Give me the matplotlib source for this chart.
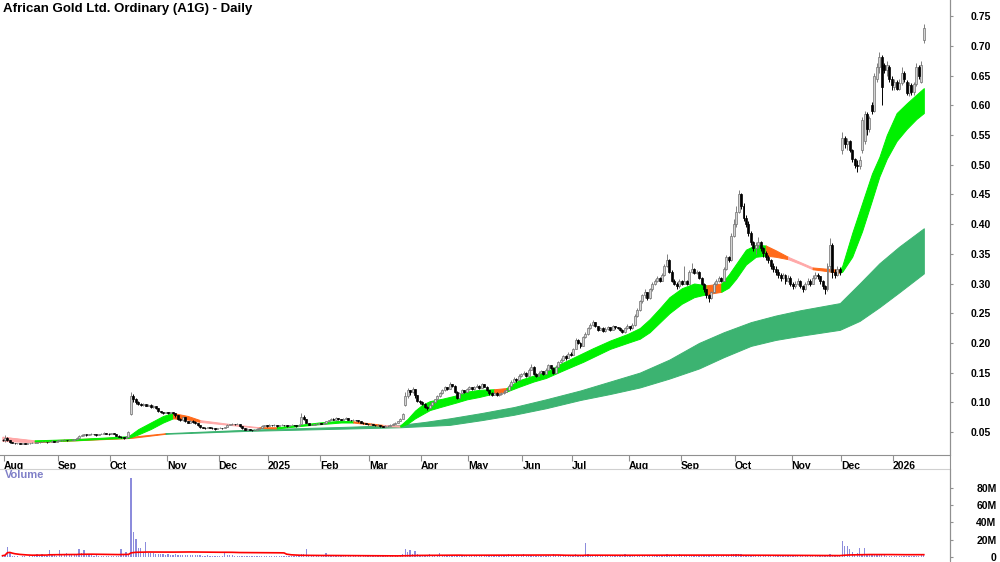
import numpy as np
import pandas as pd
import matplotlib
matplotlib.use("Agg")
import matplotlib.pyplot as plt
import matplotlib.transforms as mtransforms
from matplotlib.lines import Line2D

plt.rcParams['font.family'] = ['Liberation Sans', 'DejaVu Sans']

TITLE = "African Gold Ltd. Ordinary (A1G) - Daily"

# ASX trading days shown on the chart
holidays = ['2024-12-25', '2024-12-26', '2025-01-01', '2025-01-27', '2025-04-18',
            '2025-04-21', '2025-04-25', '2025-06-09', '2025-12-25', '2025-12-26', '2026-01-01']

# daily (open, high, low, close, volume in millions), one list per month
aug24 = [(.037,.039,.035,.036,1.5),(.036,.045,.034,.040,2.5),(.040,.041,.035,.036,11),(.036,.036,.032,.033,6),
         (.033,.033,.031,.032,1.0),(.032,.032,.030,.031,.6),(.031,.032,.030,.031,.8),(.031,.031,.029,.030,.5),
         (.030,.032,.030,.031,.7),(.031,.031,.029,.030,.6),(.030,.032,.030,.031,.5),(.031,.032,.030,.031,.8),
         (.031,.033,.031,.032,.6),(.032,.033,.031,.032,2.5),(.032,.034,.032,.033,3.0),(.033,.034,.032,.033,2.0),
         (.033,.035,.033,.034,3.5),(.034,.035,.033,.034,2.8),(.034,.034,.032,.033,1.5),(.033,.035,.033,.034,8.0),
         (.034,.036,.034,.035,3.0),(.035,.035,.033,.034,2.0),(.034,.036,.034,.035,1.5)]
sep24 = [(.035,.037,.035,.036,8.0),(.036,.037,.035,.036,4.0),(.036,.038,.036,.037,3.0),(.037,.037,.035,.036,5.0),
         (.036,.038,.036,.037,2.5),(.037,.038,.036,.037,2.0),(.037,.039,.037,.038,4.0),(.038,.041,.038,.040,3.5),
         (.040,.045,.040,.044,9.0),(.044,.046,.043,.045,5.0),(.045,.047,.044,.046,8.0),(.046,.046,.044,.045,4.0),
         (.045,.047,.045,.046,2.5),(.046,.048,.045,.047,2.0),(.047,.047,.045,.046,1.5),(.046,.046,.044,.045,1.8),
         (.045,.047,.045,.046,1.2),(.046,.048,.046,.047,1.5),(.047,.050,.046,.048,1.0),(.048,.049,.046,.047,1.3),
         (.047,.048,.045,.046,1.1)]
oct24 = [(.046,.049,.046,.048,1.2),(.048,.048,.046,.047,1.0),(.047,.047,.043,.044,1.5),(.044,.045,.041,.042,1.3),
         (.042,.043,.040,.041,9.0),(.041,.042,.039,.040,3.0),(.040,.043,.040,.042,6.0),(.042,.052,.042,.050,4.0),
         (.080,.117,.078,.110,92),(.110,.114,.100,.105,29),(.105,.108,.097,.100,21),(.100,.102,.095,.097,10),
         (.097,.099,.093,.095,10),(.095,.099,.094,.097,5.0),(.097,.098,.093,.094,17),(.094,.097,.093,.096,5.0),
         (.096,.097,.091,.092,4.5),(.092,.095,.091,.093,5.0),(.093,.094,.089,.090,3.5),(.090,.091,.084,.085,4.0),
         (.085,.086,.082,.083,3.0),(.083,.084,.081,.082,3.5),(.082,.084,.082,.083,2.5)]
nov24 = [(.083,.084,.081,.082,3.0),(.082,.084,.081,.083,2.5),(.083,.083,.081,.082,2.8),(.082,.082,.076,.078,3.0),
         (.078,.079,.070,.072,2.5),(.072,.073,.068,.070,2.0),(.070,.076,.069,.075,2.5),(.075,.075,.067,.068,2.2),
         (.068,.069,.065,.066,2.0),(.066,.070,.066,.069,2.4),(.069,.070,.066,.067,1.8),(.067,.068,.064,.065,2.0),
         (.065,.065,.060,.061,2.2),(.061,.062,.057,.058,1.8),(.058,.059,.056,.057,1.5),(.057,.058,.055,.056,1.7),
         (.056,.059,.056,.058,2.0),(.058,.058,.056,.057,1.5),(.057,.058,.055,.056,1.6),(.056,.057,.054,.055,1.4),
         (.055,.057,.055,.056,1.5)]
dec24 = [(.056,.058,.056,.057,1.6),(.057,.057,.055,.056,1.3),(.056,.059,.056,.058,6.0),(.058,.063,.058,.062,2.5),
         (.062,.064,.061,.063,2.0),(.063,.065,.062,.064,1.8),(.064,.064,.062,.063,1.5),(.063,.065,.063,.064,1.7),
         (.064,.064,.059,.060,1.5),(.060,.060,.055,.056,1.3),(.056,.057,.053,.054,1.2),(.054,.056,.054,.055,1.0),
         (.055,.055,.053,.054,1.4),(.054,.054,.052,.053,1.1),(.053,.055,.053,.054,.8),(.054,.056,.054,.055,1.0),
         (.055,.057,.055,.056,.9),(.056,.061,.056,.060,1.5),(.060,.062,.059,.061,1.2),(.061,.061,.059,.060,.8)]
jan25 = [(.060,.063,.060,.062,1.0),(.062,.062,.060,.061,.8),(.061,.063,.060,.062,1.1),(.062,.062,.059,.060,.7),
         (.060,.062,.060,.061,.9),(.061,.063,.061,.062,1.0),(.062,.062,.060,.061,.8),(.061,.061,.059,.060,.6),
         (.060,.062,.060,.061,.9),(.061,.063,.061,.062,1.0),(.062,.062,.060,.061,.7),(.061,.061,.059,.060,.6),
         (.060,.063,.060,.062,1.2),(.064,.082,.063,.075,4.0),(.075,.078,.070,.072,3.0),(.072,.072,.065,.066,9.0),
         (.066,.066,.061,.062,2.0),(.062,.063,.061,.062,1.2),(.062,.064,.062,.063,1.0),(.063,.065,.062,.064,.9),
         (.064,.066,.063,.065,1.1)]
feb25 = [(.065,.065,.063,.064,1.0),(.064,.067,.064,.066,1.3),(.066,.069,.066,.068,5.0),(.068,.071,.067,.070,2.0),
         (.070,.074,.070,.072,1.8),(.072,.073,.070,.071,1.2),(.071,.075,.071,.073,1.5),(.073,.074,.071,.072,1.0),
         (.072,.072,.070,.071,.9),(.071,.073,.071,.072,1.1),(.072,.075,.072,.073,1.3),(.073,.073,.070,.071,.8),
         (.071,.071,.069,.070,.9),(.070,.072,.070,.071,1.0),(.071,.071,.069,.070,.7),(.070,.070,.067,.068,.8),
         (.068,.068,.065,.066,.9),(.066,.067,.064,.065,.6),(.065,.065,.063,.064,.7),(.064,.064,.062,.063,.8)]
mar25 = [(.063,.065,.063,.064,.9),(.064,.064,.061,.062,.7),(.062,.062,.060,.061,.6),(.061,.063,.061,.062,.8),
         (.062,.062,.059,.060,.7),(.060,.060,.058,.059,.6),(.059,.061,.059,.060,.8),(.060,.061,.059,.060,.9),
         (.060,.063,.060,.062,1.0),(.062,.065,.062,.064,1.2),(.064,.067,.064,.066,1.1),(.066,.069,.066,.068,1.5),
         (.068,.074,.068,.072,2.0),(.072,.082,.072,.080,3.0),(.095,.118,.094,.110,9.0),(.110,.124,.108,.120,6.0),
         (.120,.121,.112,.118,8.0),(.118,.126,.116,.122,4.0),(.122,.122,.108,.112,7.0),(.112,.113,.100,.102,3.0),
         (.102,.104,.098,.100,2.5)]
apr25 = [(.100,.102,.096,.098,2.0),(.098,.099,.090,.092,2.5),(.092,.094,.087,.090,1.8),(.090,.097,.090,.095,4.0),
         (.095,.101,.094,.100,2.0),(.100,.106,.099,.105,1.8),(.105,.112,.104,.110,2.2),(.110,.117,.109,.115,5.0),
         (.115,.122,.114,.120,2.5),(.120,.127,.119,.125,2.0),(.125,.126,.120,.122,1.5),(.122,.135,.122,.130,2.8),
         (.130,.131,.125,.128,1.8),(.128,.129,.116,.118,2.0),(.118,.119,.105,.108,2.5),(.108,.117,.107,.115,1.6),
         (.115,.122,.114,.120,1.5),(.120,.121,.116,.118,1.2),(.118,.124,.117,.122,1.4)]
may25 = [(.122,.127,.121,.125,1.3),(.125,.126,.120,.122,1.1),(.122,.128,.121,.126,1.5),(.126,.130,.125,.128,1.8),
         (.128,.129,.122,.124,1.2),(.124,.133,.124,.130,1.6),(.130,.131,.125,.126,1.0),(.126,.127,.119,.120,1.3),
         (.120,.121,.113,.115,1.5),(.115,.117,.111,.113,1.0),(.113,.118,.112,.116,1.2),(.116,.117,.110,.112,.9),
         (.112,.116,.111,.114,1.1),(.114,.117,.113,.115,1.0),(.115,.120,.114,.118,1.4),(.118,.122,.117,.120,1.6),
         (.120,.130,.120,.128,4.0),(.128,.137,.127,.135,2.5),(.135,.142,.134,.140,2.2),(.140,.141,.135,.138,1.5),
         (.138,.147,.137,.145,2.0),(.145,.150,.143,.148,1.8)]
jun25 = [(.148,.153,.146,.150,3.0),(.150,.151,.143,.145,1.5),(.145,.157,.145,.155,2.0),(.155,.165,.154,.160,2.2),
         (.160,.161,.146,.148,1.6),(.148,.150,.142,.145,1.3),(.145,.152,.144,.150,1.4),(.150,.155,.149,.152,1.2),
         (.152,.153,.146,.148,1.0),(.148,.157,.147,.155,1.5),(.155,.165,.154,.162,2.0),(.162,.163,.156,.158,1.4),
         (.158,.159,.148,.150,3.0),(.150,.162,.150,.160,1.8),(.160,.170,.159,.168,2.2),(.168,.175,.167,.172,2.0),
         (.172,.180,.170,.178,2.5),(.178,.179,.172,.175,1.6),(.175,.185,.174,.182,2.4),(.182,.184,.178,.180,1.8)]
jul25 = [(.180,.192,.179,.190,2.0),(.190,.208,.189,.205,3.0),(.205,.206,.198,.200,2.0),(.200,.201,.192,.195,1.5),
         (.195,.212,.194,.210,2.5),(.210,.218,.208,.215,16),(.215,.227,.213,.225,3.5),(.225,.233,.223,.230,2.5),
         (.230,.238,.228,.235,2.8),(.235,.236,.226,.228,2.0),(.228,.229,.220,.222,1.6),(.222,.227,.221,.225,1.4),
         (.225,.226,.218,.220,1.5),(.220,.226,.219,.224,1.3),(.224,.228,.222,.226,1.2),(.226,.227,.220,.222,1.4),
         (.222,.230,.221,.228,1.8),(.228,.229,.224,.226,1.2),(.226,.227,.223,.225,1.0),(.225,.226,.220,.222,1.3),
         (.222,.223,.216,.218,1.5),(.218,.227,.217,.225,3.0),(.225,.231,.224,.228,1.6)]
aug25 = [(.228,.229,.222,.225,1.5),(.225,.233,.224,.230,1.8),(.230,.248,.229,.245,2.5),(.245,.258,.243,.255,2.2),
         (.255,.273,.253,.270,2.8),(.270,.283,.268,.280,2.5),(.280,.290,.276,.285,2.0),(.285,.286,.272,.275,1.6),
         (.275,.293,.274,.290,2.2),(.290,.303,.288,.300,2.4),(.300,.308,.297,.305,1.8),(.305,.313,.303,.310,2.0),
         (.310,.311,.302,.305,1.5),(.305,.318,.304,.315,1.8),(.315,.333,.313,.330,2.5),(.330,.350,.328,.340,3.0),
         (.340,.342,.318,.320,2.2),(.320,.322,.303,.305,1.8),(.305,.307,.297,.300,1.4),(.300,.302,.290,.295,1.5),
         (.295,.308,.293,.305,3.0)]
sep25 = [(.305,.306,.298,.300,1.8),(.300,.330,.299,.305,2.2),(.305,.306,.297,.300,1.5),(.300,.323,.299,.320,2.0),
         (.320,.334,.318,.325,2.2),(.325,.326,.316,.318,1.6),(.318,.322,.316,.320,1.4),(.320,.321,.308,.310,1.5),
         (.310,.311,.298,.300,1.8),(.300,.301,.286,.290,2.0),(.290,.291,.276,.280,2.2),(.280,.282,.269,.275,1.8),
         (.275,.288,.274,.285,1.5),(.285,.303,.284,.300,2.0),(.300,.308,.298,.305,1.6),(.305,.312,.303,.310,1.4),
         (.310,.311,.302,.305,1.3),(.305,.328,.304,.325,2.0),(.325,.348,.323,.345,2.5),(.345,.347,.336,.340,1.8),
         (.340,.385,.338,.380,3.0),(.380,.408,.378,.400,4.0)]
oct25 = [(.400,.430,.395,.420,3.5),(.420,.458,.418,.450,4.0),(.450,.452,.425,.430,3.0),(.430,.435,.405,.410,2.5),
         (.410,.415,.395,.400,2.0),(.400,.405,.380,.385,2.2),(.385,.388,.365,.370,1.8),(.370,.372,.355,.360,1.5),
         (.360,.370,.350,.365,1.6),(.365,.378,.360,.370,1.4),(.370,.372,.355,.360,1.3),(.360,.362,.345,.352,1.2),
         (.352,.355,.340,.345,1.5),(.345,.348,.335,.340,1.1),(.340,.342,.325,.330,1.3),(.330,.335,.320,.325,1.0),
         (.325,.330,.315,.320,1.2),(.320,.325,.310,.315,.9),(.315,.318,.305,.310,1.1),(.310,.318,.308,.315,1.0),
         (.315,.316,.300,.305,.8),(.305,.315,.303,.310,1.0),(.310,.312,.295,.300,.9)]
nov25 = [(.300,.302,.290,.295,1.0),(.295,.305,.293,.300,.8),(.300,.310,.298,.305,1.1),(.305,.306,.292,.295,.9),
         (.295,.297,.285,.290,1.0),(.290,.303,.289,.300,.8),(.300,.310,.298,.305,1.2),(.305,.307,.296,.300,.9),
         (.300,.315,.299,.310,1.0),(.310,.320,.308,.315,1.1),(.315,.318,.308,.312,.8),(.312,.313,.300,.305,.9),
         (.305,.306,.290,.295,1.0),(.295,.297,.283,.290,1.2),(.290,.335,.288,.330,2.5),(.330,.376,.320,.365,3.5),
         (.365,.368,.310,.320,2.0),(.320,.325,.310,.315,1.2),(.315,.330,.312,.325,1.5),(.325,.328,.315,.320,1.3)]
dec25 = [(.525,.555,.518,.545,18),(.545,.548,.528,.535,13),(.535,.545,.525,.540,13),(.540,.542,.522,.525,9),
         (.525,.527,.505,.510,6),(.510,.512,.495,.500,3.0),(.500,.508,.488,.497,5),(.497,.515,.492,.508,10),
         (.525,.580,.520,.575,4),(.540,.590,.535,.585,10),(.585,.588,.550,.560,3.0),(.560,.582,.555,.578,2.5),
         (.600,.606,.585,.590,2.0),(.590,.655,.588,.650,3.0),(.645,.672,.640,.665,2.5),(.665,.690,.655,.682,2.8),
         (.682,.685,.600,.630,2.0),(.668,.672,.655,.660,1.8),(.660,.675,.650,.668,1.5),(.665,.668,.640,.645,1.6),
         (.645,.650,.625,.635,1.2)]
jan26 = [(.630,.645,.625,.640,1.5),(.640,.642,.625,.628,1.2),(.628,.645,.625,.638,1.0),(.638,.665,.635,.655,1.4),
         (.655,.657,.640,.645,1.1),(.640,.642,.618,.620,1.3),(.620,.640,.615,.635,1.0),(.635,.638,.618,.622,1.2),
         (.622,.640,.618,.636,.9),(.636,.672,.632,.665,1.5),(.665,.668,.645,.650,1.2),(.640,.675,.638,.668,2.0),
         (.710,.737,.705,.730,4.0)]

# moving-average ribbons:
# (day index, lower edge, upper edge, colour of the stretch up to the next point)
short_ribbon = [(0,.035,.042,'p'),(13,.034,.036,'g'),(29,.036,.038,'g'),(43,.039,.041,'g'),(51,.040,.043,'g'),
                (55,.046,.055,'g'),(60,.055,.066,'g'),(65,.066,.077,'g'),(69,.073,.082,'o'),(75,.071,.077,'o'),
                (80,.067,.070,'p'),(93,.0615,.063,'p'),(104,.057,.058,'o'),(111,.056,.058,'g'),(120,.060,.062,'g'),
                (128,.063,.066,'g'),(137,.066,.069,'g'),(142,.066,.068,'o'),(148,.063,.065,'o'),(154,.060,.062,'p'),
                (161,.059,.061,'g'),(164,.064,.072,'g'),(167,.073,.086,'g'),(170,.080,.096,'g'),(173,.087,.102,'g'),
                (178,.093,.106,'g'),(184,.100,.112,'g'),(188,.105,.118,'g'),(193,.109,.121,'g'),(199,.115,.122,'o'),
                (204,.118,.124,'g'),(209,.126,.137,'g'),(215,.135,.145,'g'),(220,.141,.151,'g'),(226,.152,.165,'g'),
                (231,.161,.175,'g'),(235,.168,.183,'g'),(239,.176,.191,'g'),(246,.190,.204,'g'),(253,.200,.215,'g'),
                (258,.207,.225,'g'),(262,.218,.240,'g'),(266,.234,.258,'g'),(270,.250,.277,'g'),(275,.266,.292,'g'),
                (280,.277,.300,'g'),(285,.282,.297,'o'),(291,.286,.300,'g'),(294,.293,.315,'g'),(297,.308,.333,'g'),
                (301,.332,.357,'g'),(305,.345,.365,'g'),(309,.347,.364,'o'),(313,.345,.356,'o'),(318,.341,.345,'p'),
                (323,.333,.336,'p'),(328,.324,.327,'o'),(339,.318,.323,'g'),(340,.320,.330,'g'),(344,.345,.385,'g'),
                (348,.388,.435,'g'),(352,.440,.485,'g'),(355,.480,.513,'g'),(358,.510,.550,'g'),(362,.540,.587,'g'),
                (366,.560,.603,'g'),(370,.577,.618,'g'),(373,.587,.629,'')]
long_ribbon = [(0,.035,.042,'p'),(13,.033,.035,'o'),(52,.040,.042,'o'),(66,.047,.048,'d'),(100,.052,.054,'d'),
               (141,.056,.059,'d'),(161,.058,.062,'d'),(171,.060,.067,'d'),(181,.062,.073,'d'),(194,.070,.082,'d'),
               (207,.079,.092,'d'),(220,.090,.105,'d'),(234,.104,.120,'d'),(246,.114,.135,'d'),(258,.125,.150,'d'),
               (270,.140,.172,'d'),(282,.157,.200,'d'),(292,.176,.218,'d'),(303,.195,.235,'d'),(313,.205,.246,'d'),
               (323,.212,.255,'d'),(331,.217,.261,'d'),(339,.222,.267,'d'),(347,.237,.300,'d'),(355,.260,.334,'d'),
               (363,.285,.362,'d'),(373,.317,.393,'')]

palette = {'g': '#00f000', 'o': '#ff6a1a', 'p': '#ffa8a8', 'd': '#3cb371'}

bars = aug24 + sep24 + oct24 + nov24 + dec24 + jan25 + feb25 + mar25 + apr25 + may25 + \
    jun25 + jul25 + aug25 + sep25 + oct25 + nov25 + dec25 + jan26
dates = pd.bdate_range('2024-07-31', '2026-01-20', freq='C', holidays=holidays)
n = min(len(bars), len(dates))
df = pd.DataFrame(bars[:n], columns=['o', 'h', 'l', 'c', 'v'], index=dates[:n])
x = np.arange(n)


def draw_ribbon(ax, samples, z):
    k = 0
    while k < len(samples) - 1:
        col = samples[k][3]
        j = k
        while j + 1 < len(samples) - 1 and samples[j + 1][3] == col:
            j += 1
        seg = np.array([s[:3] for s in samples[k:j + 2]])
        ax.fill_between(seg[:, 0], seg[:, 1], seg[:, 2], color=palette[col], lw=0.7,
                        ec=palette[col], zorder=z)
        k = j + 1


fig = plt.figure(figsize=(10, 5.62), dpi=100)
ax = fig.add_axes([0, 1 - 455 / 562, 0.95, 455 / 562])
axv = fig.add_axes([0, 1 - 560 / 562, 0.95, 91 / 562])

draw_ribbon(ax, long_ribbon, 1)
draw_ribbon(ax, short_ribbon, 2)

up = (df.c >= df.o).values
lo = np.minimum(df.o, df.c).values
ht = np.abs(df.c - df.o).values
ax.vlines(x[up], df.l[up], df.h[up], color='#808080', lw=0.7, zorder=3)
ax.vlines(x[~up], df.l[~up], df.h[~up], color='black', lw=0.7, zorder=3)
ax.bar(x[up], ht[up], bottom=lo[up], width=0.8, color='#d4d4d4', edgecolor='#707070', lw=0.5, zorder=4)
ax.bar(x[~up], ht[~up], bottom=lo[~up], width=0.8, color='black', edgecolor='black', lw=0.5, zorder=4)

ax.set_xlim(-1.02, 383.6)
ax.set_ylim(0.0113, 0.7773)
ax.yaxis.tick_right()
yt = np.arange(0.05, 0.76, 0.05)
ax.set_yticks(yt)
ax.set_yticklabels([f"{t:.2f}" for t in yt])

# month ticks at the first trading day of each month (skip the lone July 2024 day)
firsts = df.index.to_series().groupby([df.index.year, df.index.month]).head(1)
mpos = [df.index.get_loc(d) for d in firsts.index][1:]
mlab = [str(d.year) if d.month == 1 else d.strftime('%b') for d in df.index[mpos]]
ax.set_xticks(np.array(mpos) - 0.5)
ax.set_xticklabels(mlab)
for t in ax.get_xticklabels():
    t.set_horizontalalignment('left')
# the first label sits a little clear of the left edge
first = ax.get_xticklabels()[0]
first.set_transform(first.get_transform() +
                    mtransforms.ScaledTranslation(8 / 100, 0, fig.dpi_scale_trans))

for s in ['top', 'left']:
    ax.spines[s].set_visible(False)
ax.spines['right'].set_color('#909090')
ax.spines['bottom'].set_color('#909090')
ax.tick_params(axis='x', direction='out', length=4, color='#909090', pad=0.5, labelsize=7.5)
ax.tick_params(axis='y', direction='out', length=2, color='#909090', pad=27.5, labelsize=7.5)
for t in ax.get_yticklabels():
    t.set_horizontalalignment('right')
for t in ax.get_xticklabels() + ax.get_yticklabels():
    t.set_fontweight('bold')

# volume panel
vol_ma = df.v.rolling(63, min_periods=1).mean()
axv.bar(x, df.v, width=0.5, color='#8c8cdc', zorder=2)
axv.plot(x, vol_ma, color='#ff0000', lw=1.2, zorder=3)
axv.set_xlim(-1.02, 383.6)
axv.set_ylim(-3.5, 102)
axv.set_xticks([])
axv.yaxis.tick_right()
axv.set_yticks([0, 20, 40, 60, 80])
axv.set_yticklabels(['0', '20M', '40M', '60M', '80M'])
axv.tick_params(axis='y', direction='out', length=2, color='#909090', pad=31.5, labelsize=7.5)
for t in axv.get_yticklabels():
    t.set_horizontalalignment('right')
    t.set_fontweight('bold')
for s in ['bottom', 'left']:
    axv.spines[s].set_visible(False)
axv.spines['top'].set_color('#d0d0d0')
axv.spines['right'].set_color('#909090')
axv.text(0.005, 0.93, 'Volume', transform=axv.transAxes, color='#8080c8',
         fontsize=8, fontweight='bold', va='center')

fig.add_artist(Line2D([0.95, 0.95], [0, 1], color='#909090', lw=0.8))
fig.text(0.003, 1 - 9 / 562, TITLE, fontsize=9.5, fontweight='bold', va='center')

fig.savefig('out.png', dpi=100)
